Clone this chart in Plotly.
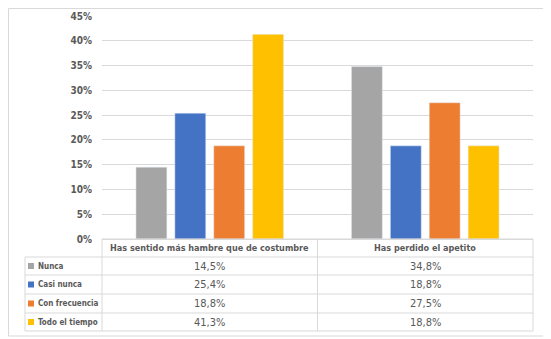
import plotly.graph_objects as go

CATEGORIES = ["Has sentido más hambre que de costumbre", "Has perdido el apetito"]
SERIES = ["Nunca", "Casi nunca", "Con frecuencia", "Todo el tiempo"]
NUNCA = [14.5, 34.8]
CASI_NUNCA = [25.4, 18.8]
CON_FRECUENCIA = [18.8, 27.5]
TODO_EL_TIEMPO = [41.3, 18.8]
Y_TICKS = [0, 5, 10, 15, 20, 25, 30, 35, 40, 45]

COLORS = ["#a5a5a5", "#4472c4", "#ed7d31", "#ffc000"]
FONT = "DejaVu Sans Condensed"
TEXT_COLOR = "#595959"
GRID_COLOR = "#d9d9d9"

# the page body has an 8px margin, so the figure starts 8px in
PAGE_OFFSET = 8
WIDTH = 551 - PAGE_OFFSET
HEIGHT = 339 - PAGE_OFFSET

# positions below are in pixels of the 551x339 window
PLOT_LEFT = 102
PLOT_RIGHT = 533
PLOT_TOP = 16
PLOT_BOTTOM = 239
ROW_EDGES = [239, 257, 275, 294, 313, 331]
LEGEND_LEFT = 25


def px_x(x):
    return (x - PLOT_LEFT) / (PLOT_RIGHT - PLOT_LEFT)


def px_y(y):
    return (PLOT_BOTTOM - y) / (PLOT_BOTTOM - PLOT_TOP)


def fmt(v):
    return "{0:.1f}%".format(v).replace(".", ",")


def text_font(size=11):
    return dict(size=size, color=TEXT_COLOR, family=FONT)


values = [NUNCA, CASI_NUNCA, CON_FRECUENCIA, TODO_EL_TIEMPO]

fig = go.Figure()
for name, vals, color in zip(SERIES, values, COLORS):
    fig.add_trace(go.Bar(x=CATEGORIES, y=vals, name=name, marker_color=color, hoverinfo="y+name"))

shapes = []
annotations = []
line = dict(color=GRID_COLOR, width=1)


def hline(x0, x1, y, **kw):
    shapes.append(dict(type="line", xref="paper", yref="paper",
                       x0=px_x(x0), x1=px_x(x1), y0=px_y(y), y1=px_y(y), line=kw.get("line", line)))


def vline(x, y0, y1, **kw):
    shapes.append(dict(type="line", xref="paper", yref="paper",
                       x0=px_x(x), x1=px_x(x), y0=px_y(y0), y1=px_y(y1), line=kw.get("line", line)))


def label(x, y, text, size, xanchor="center"):
    annotations.append(dict(xref="paper", yref="paper", x=px_x(x), y=px_y(y), text=text,
                            xanchor=xanchor, yanchor="middle", showarrow=False, font=text_font(size)))


# outer chart border (the figure cannot reach above/left of the page margin)
shapes.append(dict(type="rect", xref="paper", yref="paper",
                   x0=px_x(PAGE_OFFSET + 0.5), x1=px_x(546), y0=px_y(PAGE_OFFSET + 0.5), y1=px_y(336),
                   line=line))
# small black mark at the bottom right
vline(548, 322, 337, line=dict(color="black", width=2))

# data table grid
n_cat = len(CATEGORIES)
col_edges = [PLOT_LEFT + i * (PLOT_RIGHT - PLOT_LEFT) / n_cat for i in range(n_cat + 1)]
for i, y in enumerate(ROW_EDGES):
    hline(PLOT_LEFT if i == 0 else LEGEND_LEFT, PLOT_RIGHT, y)
for x in col_edges:
    vline(x, ROW_EDGES[0], ROW_EDGES[-1])
vline(LEGEND_LEFT, ROW_EDGES[1], ROW_EDGES[-1])

# header
for j, cat in enumerate(CATEGORIES):
    label((col_edges[j] + col_edges[j + 1]) / 2, (ROW_EDGES[0] + ROW_EDGES[1]) / 2, "<b>" + cat + "</b>", 9)

# rows
for i, (name, vals, color) in enumerate(zip(SERIES, values, COLORS)):
    cy = (ROW_EDGES[i + 1] + ROW_EDGES[i + 2]) / 2
    shapes.append(dict(type="rect", xref="paper", yref="paper",
                       x0=px_x(28), x1=px_x(34), y0=px_y(cy - 3), y1=px_y(cy + 3),
                       fillcolor=color, line=dict(width=0)))
    label(36, cy, "<b>" + name + "</b>", 8, xanchor="left")
    for j, v in enumerate(vals):
        label((col_edges[j] + col_edges[j + 1]) / 2, cy, fmt(v), 11)

fig.update_layout(
    width=WIDTH,
    height=HEIGHT,
    margin=dict(l=PLOT_LEFT - PAGE_OFFSET, r=551 - PLOT_RIGHT, t=PLOT_TOP - PAGE_OFFSET, b=339 - PLOT_BOTTOM),
    paper_bgcolor="white",
    plot_bgcolor="white",
    barmode="group",
    bargap=0.278,
    bargroupgap=0.205,
    showlegend=False,
    font=text_font(),
    shapes=shapes,
    annotations=annotations,
)
fig.update_xaxes(showticklabels=False, showline=True, linecolor=GRID_COLOR, ticks="", automargin=False)
fig.update_yaxes(range=[0, 45], tickvals=Y_TICKS, ticktext=["<b>%d%%</b>" % v for v in Y_TICKS],
                 showgrid=True, gridcolor=GRID_COLOR, zeroline=False, tickfont=text_font(10),
                 ticklabelstandoff=9, automargin=False)

fig.write_html("out.html")
